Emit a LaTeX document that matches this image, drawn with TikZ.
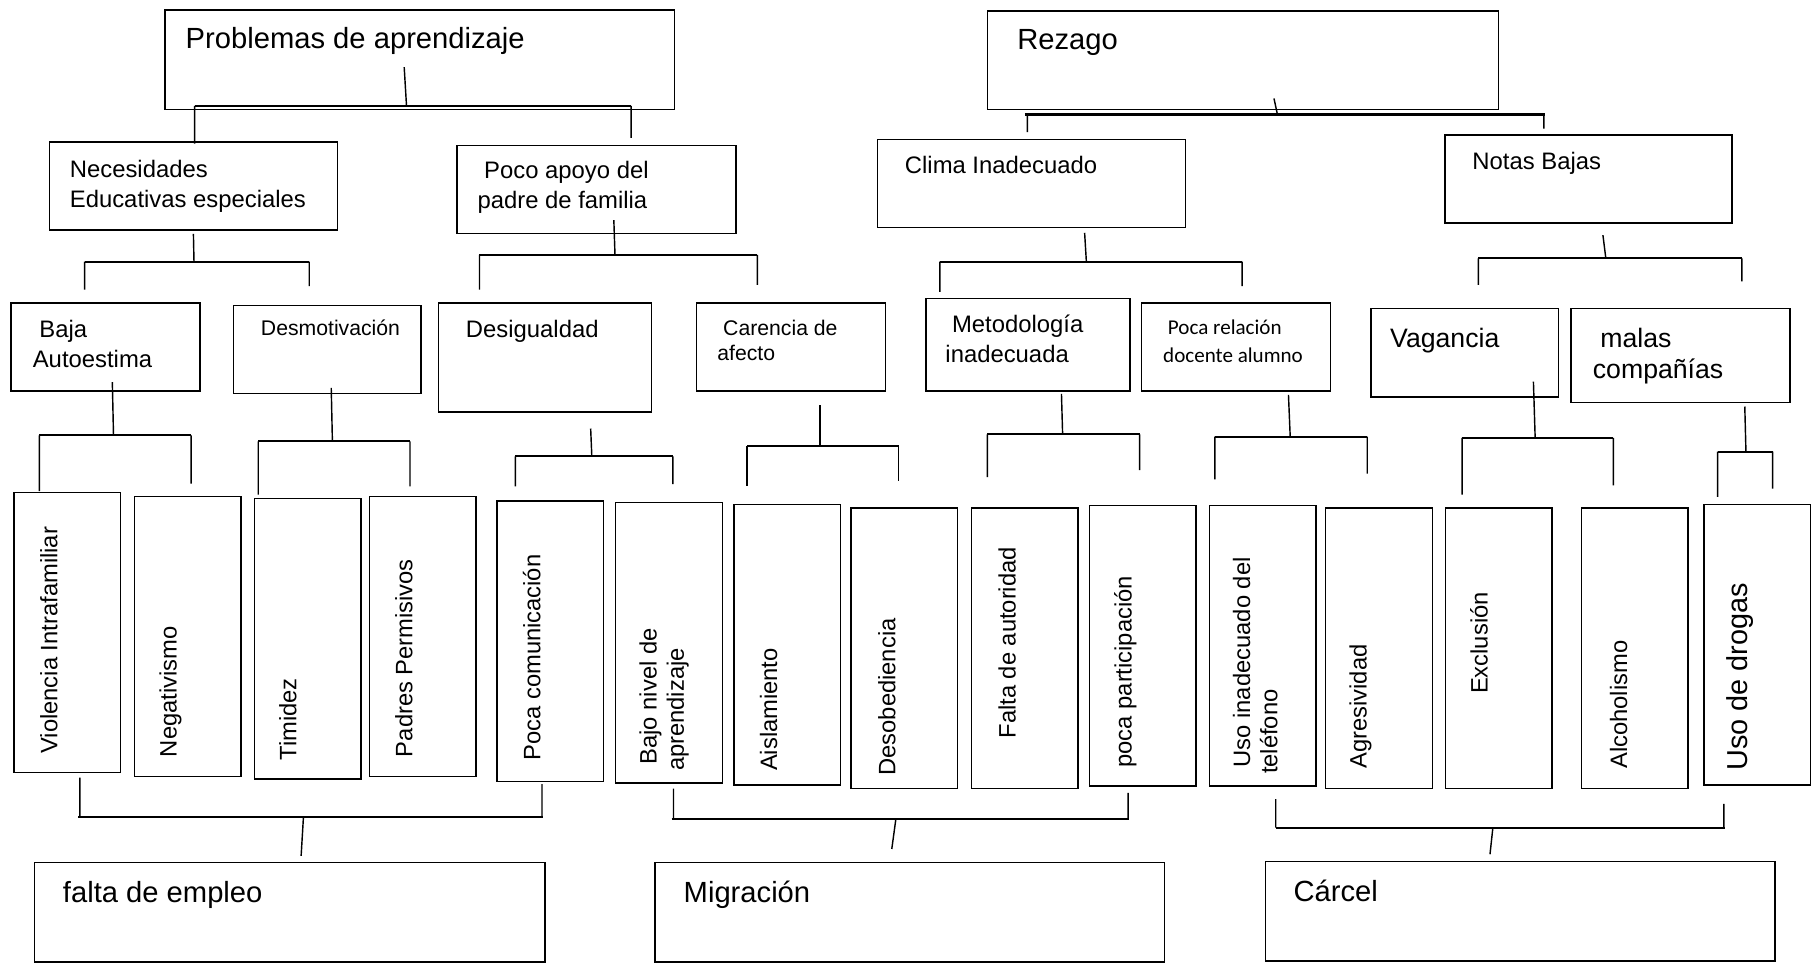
\documentclass[tikz,border=0pt]{standalone}
\usepackage{fontspec}
\setmainfont{Liberation Sans}
\newfontfamily\calib{Carlito}
\usepackage{tikz}

\begin{document}
\begin{tikzpicture}[x=0.02cm, y=-0.02cm,
    box/.style 2 args={draw, line width=0.7pt, minimum width=#1*0.02cm, minimum height=#2*0.02cm, anchor=north west, inner sep=0pt},
    col/.style={box={92}{242}},
    lbl/.style={inner sep=0pt, anchor=base west, align=left},
    vlbl/.style={lbl, rotate=90, font=\fontsize{11.67pt}{13.4pt}\selectfont},
    big/.style={font=\fontsize{14.34pt}{17pt}\selectfont},
    mid/.style={font=\fontsize{11.72pt}{14.8pt}\selectfont},
    small/.style={font=\fontsize{10.42pt}{12.5pt}\selectfont},
    vag/.style={font=\fontsize{13.1pt}{15.4pt}\selectfont},
    link/.style={line width=0.7pt},
    bar/.style={line width=1pt}]
  \useasboundingbox (0,0) rectangle (1568,831);
  % Boxes
  \node[box={440}{86}] (prob) at (142,8) {};
  \node[box={441}{85}] (rez) at (852,9) {};
  \node[box={249}{76}] (nee) at (42,122) {};
  \node[box={241}{76}] (apoyo) at (394,125) {};
  \node[box={266}{76}] (clima) at (757,120) {};
  \node[box={248}{76}] (notas) at (1247,116) {};
  \node[box={163}{76}] (baja) at (9,261) {};
  \node[box={162}{76}] (desm) at (201,263) {};
  \node[box={184}{94}] (desig) at (378,261) {};
  \node[box={163}{76}] (caren) at (601,261) {};
  \node[box={176}{80}] (metod) at (799,257) {};
  \node[box={163}{76}] (relac) at (985,261) {};
  \node[box={162}{76}] (vaga) at (1183,266) {};
  \node[box={189}{81}] (malas) at (1356,266) {};
  \node[col] (viol) at (11.5,424.5) {};
  \node[col] (negat) at (115.5,428) {};
  \node[col] (timid) at (219,430) {};
  \node[col] (padres) at (318.5,428) {};
  \node[col] (comun) at (428.5,432) {};
  \node[col] (bajon) at (531,433.5) {};
  \node[col] (aisla) at (633,435) {};
  \node[col] (desob) at (734,438) {};
  \node[col] (autor) at (838,438) {};
  \node[col] (partic) at (940,436) {};
  \node[col] (telef) at (1043.5,436) {};
  \node[col] (agres) at (1144,438) {};
  \node[col] (exclu) at (1247.5,438) {};
  \node[col] (alcoh) at (1365,438) {};
  \node[col] (drogas) at (1470.5,435) {};
  \node[box={441}{86}] (empleo) at (29,744) {};
  \node[box={440}{86}] (migra) at (565,744) {};
  \node[box={440}{86}] (carcel) at (1092,743) {};
  % Labels
  \node[lbl, big] (prob-t) at (160,42) {Problemas de aprendizaje};
  \node[lbl, big] (rez-t) at (878,43) {Rezago};
  \node[lbl, mid] (nee-t) at (60,179) {Necesidades\\Educativas especiales};
  \node[lbl, mid] (apoyo-t) at (412,180) {\ Poco apoyo del\\padre de familia};
  \node[lbl, mid] (clima-t) at (781,150) {Clima Inadecuado};
  \node[lbl, mid] (notas-t) at (1271,146) {Notas Bajas};
  \node[lbl, mid] (baja-t) at (28,317) {\ Baja\\Autoestima};
  \node[lbl, small] (desm-t) at (225,290) {Desmotivación};
  \node[lbl, mid] (desig-t) at (402,291) {Desigualdad};
  \node[lbl, small] (caren-t) at (619,311.5) {\ Carencia de\\afecto};
  \node[lbl, mid] (metod-t) at (816,313) {\ Metodología\\inadecuada};
  \node[lbl, font=\calib\fontsize{10.36pt}{13.7pt}\selectfont] (relac-t) at (1004,313) {\ Poca relación\\docente alumno};
  \node[lbl, vag] (vaga-t) at (1200,300) {Vagancia};
  \node[lbl, vag] (malas-t) at (1375,327) {\ malas\\compañías};
  \node[vlbl] (viol-t) at (49.5,651) {Violencia Intrafamiliar};
  \node[vlbl] (negat-t) at (152.5,654) {Negativismo};
  \node[vlbl] (timid-t) at (256,657) {Timidez};
  \node[vlbl] (padres-t) at (356,654) {Padres Permisivos};
  \node[vlbl] (comun-t) at (466.5,657) {Poca comunicación};
  \node[vlbl] (bajon-t) at (590.5,666) {\ Bajo nivel de\\aprendizaje};
  \node[vlbl] (aisla-t) at (671,666) {Aislamiento};
  \node[vlbl] (desob-t) at (773,670) {Desobediencia};
  \node[vlbl] (autor-t) at (877,638) {Falta de autoridad};
  \node[vlbl] (partic-t) at (977,663) {poca participación};
  \node[vlbl] (telef-t) at (1103,668.6) {\ Uso inadecuado del\\teléfono};
  \node[vlbl] (agres-t) at (1180,664) {Agresividad};
  \node[vlbl] (exclu-t) at (1284.5,599.5) {Exclusión};
  \node[vlbl] (alcoh-t) at (1405,664) {Alcoholismo};
  \node[vlbl, font=\fontsize{14.17pt}{17pt}\selectfont] (drogas-t) at (1509,665.7) {Uso de drogas};
  \node[lbl, big] (empleo-t) at (54,779) {falta de empleo};
  \node[lbl, big] (migra-t) at (590,779) {Migración};
  \node[lbl, big] (carcel-t) at (1116.5,778) {Cárcel};
  % Brackets, top part
  \coordinate (prob-s) at (349,58); \coordinate (prob-j) at (351,91.5);
  \coordinate (prob-l) at (168,91.5); \coordinate (prob-r) at (545,91.5);
  \coordinate (prob-a) at (168,124); \coordinate (prob-b) at (545,119);
  \draw[bar, line width=1.4pt] (prob-l) -- (prob-r);
  \draw[link] (prob-s) -- (prob-j) (prob-l) -- (prob-a) (prob-r) -- (prob-b);
  \coordinate (rez-s) at (1100,85); \coordinate (rez-j) at (1103,99);
  \coordinate (rez-l) at (885,99); \coordinate (rez-r) at (1334,99);
  \coordinate (rez-a) at (887,114); \coordinate (rez-b) at (1333,111);
  \draw[bar, line width=1.2pt] (rez-l) -- (rez-r);
  \draw[link] (rez-s) -- (rez-j) (rez-l -| rez-a) -- (rez-a) (rez-r -| rez-b) -- (rez-b);
  \coordinate (nee-s) at (167,202); \coordinate (nee-j) at (167.5,226);
  \coordinate (nee-l) at (73,226); \coordinate (nee-r) at (267,226);
  \coordinate (nee-a) at (73,250); \coordinate (nee-b) at (267,247);
  \draw[bar] (nee-l) -- (nee-r);
  \draw[link] (nee-s) -- (nee-j) (nee-l) -- (nee-a) (nee-r) -- (nee-b);
  \coordinate (apoyo-s) at (530,190); \coordinate (apoyo-j) at (531,220);
  \coordinate (apoyo-l) at (414,220); \coordinate (apoyo-r) at (654,220);
  \coordinate (apoyo-a) at (414,250); \coordinate (apoyo-b) at (654,246);
  \draw[bar] (apoyo-l) -- (apoyo-r);
  \draw[link] (apoyo-s) -- (apoyo-j) (apoyo-l) -- (apoyo-a) (apoyo-r) -- (apoyo-b);
  \coordinate (clima-s) at (936.5,201); \coordinate (clima-j) at (938,226);
  \coordinate (clima-l) at (811.5,226); \coordinate (clima-r) at (1072.5,226);
  \coordinate (clima-a) at (811.5,252); \coordinate (clima-b) at (1072.5,247);
  \draw[bar] (clima-l) -- (clima-r);
  \draw[link] (clima-s) -- (clima-j) (clima-l) -- (clima-a) (clima-r) -- (clima-b);
  \coordinate (notas-s) at (1384,203); \coordinate (notas-j) at (1386.5,223);
  \coordinate (notas-l) at (1276.5,223); \coordinate (notas-r) at (1504,223);
  \coordinate (notas-a) at (1276.5,246); \coordinate (notas-b) at (1504,243);
  \draw[bar] (notas-l) -- (notas-r);
  \draw[link] (notas-s) -- (notas-j) (notas-l) -- (notas-a) (notas-r) -- (notas-b);
  % Brackets, middle part
  \coordinate (baja-s) at (97,330); \coordinate (baja-j) at (98,376);
  \coordinate (baja-l) at (34,376); \coordinate (baja-r) at (165,376);
  \coordinate (baja-a) at (34,424); \coordinate (baja-b) at (165,417.5);
  \draw[bar] (baja-l) -- (baja-r);
  \draw[link] (baja-s) -- (baja-j) (baja-l) -- (baja-a) (baja-r) -- (baja-b);
  \coordinate (desm-s) at (286,335); \coordinate (desm-j) at (287,381);
  \coordinate (desm-l) at (223,381); \coordinate (desm-r) at (354,381);
  \coordinate (desm-a) at (223,427); \coordinate (desm-b) at (354,420);
  \draw[bar] (desm-l) -- (desm-r);
  \draw[link] (desm-s) -- (desm-j) (desm-l) -- (desm-a) (desm-r) -- (desm-b);
  \coordinate (desig-s) at (510,370); \coordinate (desig-j) at (511,394);
  \coordinate (desig-l) at (445,394); \coordinate (desig-r) at (581,394);
  \coordinate (desig-a) at (445,420); \coordinate (desig-b) at (581,418);
  \draw[bar] (desig-l) -- (desig-r);
  \draw[link] (desig-s) -- (desig-j) (desig-l) -- (desig-a) (desig-r) -- (desig-b);
  \coordinate (caren-s) at (708,350); \coordinate (caren-j) at (708,385);
  \coordinate (caren-l) at (645,385); \coordinate (caren-r) at (776,385);
  \coordinate (caren-a) at (645,420); \coordinate (caren-b) at (776,415);
  \draw[bar] (caren-l) -- (caren-r);
  \draw[link] (caren-s) -- (caren-j) (caren-l) -- (caren-a) (caren-r) -- (caren-b);
  \coordinate (metod-s) at (916.5,340); \coordinate (metod-j) at (917.5,375);
  \coordinate (metod-l) at (852.5,375); \coordinate (metod-r) at (984,375);
  \coordinate (metod-a) at (852.5,412); \coordinate (metod-b) at (984,406);
  \draw[bar] (metod-l) -- (metod-r);
  \draw[link] (metod-s) -- (metod-j) (metod-l) -- (metod-a) (metod-r) -- (metod-b);
  \coordinate (relac-s) at (1112.5,341); \coordinate (relac-j) at (1114,377);
  \coordinate (relac-l) at (1049,377); \coordinate (relac-r) at (1180.5,377);
  \coordinate (relac-a) at (1049,414); \coordinate (relac-b) at (1180.5,409);
  \draw[bar] (relac-l) -- (relac-r);
  \draw[link] (relac-s) -- (relac-j) (relac-l) -- (relac-a) (relac-r) -- (relac-b);
  \coordinate (vaga-s) at (1324,329.5); \coordinate (vaga-j) at (1325.5,378);
  \coordinate (vaga-l) at (1262.5,378); \coordinate (vaga-r) at (1393,378);
  \coordinate (vaga-a) at (1262.5,427); \coordinate (vaga-b) at (1393,419);
  \draw[bar] (vaga-l) -- (vaga-r);
  \draw[link] (vaga-s) -- (vaga-j) (vaga-l) -- (vaga-a) (vaga-r) -- (vaga-b);
  \coordinate (malas-s) at (1506.5,351); \coordinate (malas-j) at (1507.5,390);
  \coordinate (malas-l) at (1483,390); \coordinate (malas-r) at (1530.5,390);
  \coordinate (malas-a) at (1483,429); \coordinate (malas-b) at (1530.5,422);
  \draw[bar] (malas-l) -- (malas-r);
  \draw[link] (malas-s) -- (malas-j) (malas-l) -- (malas-a) (malas-r) -- (malas-b);
  % Brackets, bottom part
  \coordinate (empleo-a) at (69,671.5); \coordinate (empleo-b) at (468,677);
  \coordinate (empleo-l) at (67.5,705.5); \coordinate (empleo-r) at (469,705.5);
  \coordinate (empleo-j) at (262,705.5); \coordinate (empleo-s) at (260,739);
  \draw[bar] (empleo-l) -- (empleo-r);
  \draw[link] (empleo-a) -- (empleo-a |- empleo-l) (empleo-b) -- (empleo-b |- empleo-r) (empleo-j) -- (empleo-s);
  \coordinate (migra-a) at (581.5,681); \coordinate (migra-b) at (974,684.5);
  \coordinate (migra-l) at (580,707.3); \coordinate (migra-r) at (975,707.3);
  \coordinate (migra-j) at (773.5,707.3); \coordinate (migra-s) at (770,733);
  \draw[bar] (migra-l) -- (migra-r);
  \draw[link] (migra-a) -- (migra-a |- migra-l) (migra-b) -- (migra-b |- migra-r) (migra-j) -- (migra-s);
  \coordinate (carcel-a) at (1101.5,690); \coordinate (carcel-b) at (1488.5,694);
  \coordinate (carcel-l) at (1101.5,714.6); \coordinate (carcel-r) at (1489,714.6);
  \coordinate (carcel-j) at (1289,714.6); \coordinate (carcel-s) at (1286.5,737.6);
  \draw[bar] (carcel-l) -- (carcel-r);
  \draw[link] (carcel-a) -- (carcel-a |- carcel-l) (carcel-b) -- (carcel-b |- carcel-r) (carcel-j) -- (carcel-s);
\end{tikzpicture}
\end{document}
